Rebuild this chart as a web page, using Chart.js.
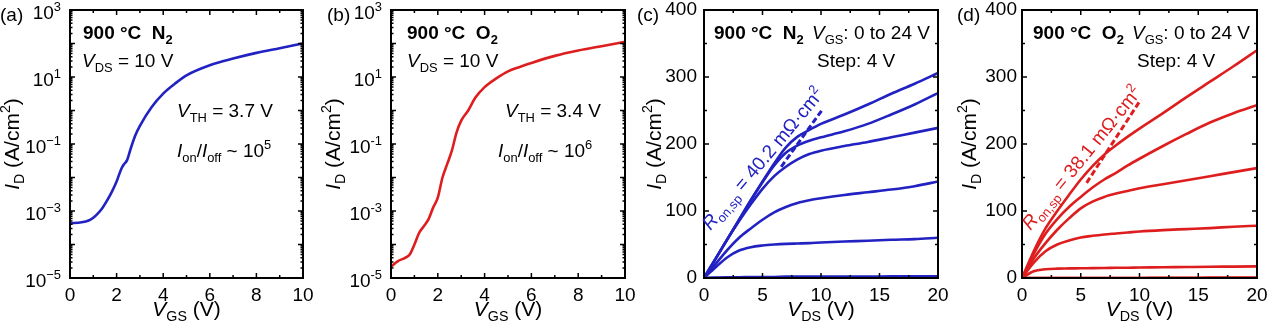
<!DOCTYPE html>
<html>
<head>
<meta charset="utf-8">
<script src="https://cdn.jsdelivr.net/npm/chart.js@4.4.1/dist/chart.umd.min.js"></script>
<style>
  body { margin: 0; background: #fff; }
  #wrap { position: relative; width: 1269px; height: 325px; overflow: hidden; }
  #wrap canvas { position: absolute; left: 0; top: 0; }
</style>
</head>
<body>
<div id="wrap">
  <canvas id="ca" width="1269" height="325"></canvas>
  <canvas id="cb" width="1269" height="325"></canvas>
  <canvas id="cc" width="1269" height="325"></canvas>
  <canvas id="cd" width="1269" height="325"></canvas>
</div>
<script>
// ---- data ----
// (a) transfer curve, 900 °C N2, VDS = 10 V  (ID in A/cm2)
const vgsA = [0, 0.5, 0.8, 1.0, 1.2, 1.4, 1.6, 1.8, 2.0, 2.2, 2.3, 2.45, 2.6, 2.8, 3.0, 3.5, 4.0, 4.5, 5, 6, 7, 8, 9, 10];
const idA = [4.3e-4, 4.6e-4, 5.2e-4, 6.3e-4, 8.5e-4, 1.26e-3, 2.1e-3, 3.8e-3, 7.6e-3, 1.8e-2, 2.4e-2, 3.3e-2, 7.1e-2, 0.18, 0.35, 1.26, 3.2, 6.3, 11.2, 22.4, 35.5, 52.5, 72.4, 100];

// (b) transfer curve, 900 °C O2, VDS = 10 V
const vgsB = [0, 0.3, 0.6, 0.8, 1.0, 1.2, 1.4, 1.6, 1.8, 2.0, 2.2, 2.4, 2.6, 2.8, 3.0, 3.3, 3.6, 4.0, 4.5, 5, 5.5, 6, 7, 8, 9, 10];
const idB = [2.2e-5, 3.2e-5, 4.0e-5, 5.0e-5, 1.0e-4, 2.2e-4, 3.5e-4, 5.6e-4, 1.26e-3, 2.5e-3, 1.0e-2, 2.5e-2, 6.3e-2, 0.22, 0.5, 1.0, 2.4, 5.0, 9.1, 14.8, 20, 26.3, 42.7, 61.7, 83.2, 112];

// (c),(d) output curves, VGS 0 to 24 V, step 4 V
const vdsOut = [0, 1, 2, 3, 4, 5, 6, 7, 8, 9, 10, 12, 14, 16, 18, 20];
const idC24 = [0, 29, 58, 87, 116, 144, 171, 195, 211, 221, 230, 244, 259, 275, 290, 306];
const idC20 = [0, 29, 58, 87, 116, 143, 168, 187, 198, 205, 210, 219, 230, 244, 259, 276];
const idC16 = [0, 29, 58, 85, 110, 133, 152, 166, 177, 185, 190, 197, 203, 210, 217, 224];
const idC12 = [0, 21, 42, 60, 74, 87, 98, 106, 112, 116, 119, 124, 128, 132, 137, 144];
const idC8  = [0, 16, 31, 41, 46, 48.5, 50, 51, 51.5, 52, 53, 54.5, 55.5, 57, 58, 60];
const idC4  = [0, 0.5, 1, 1, 1.5, 1.5, 1.5, 2, 2, 2, 2, 2, 2, 2.5, 2.5, 2.5];
const idC0  = [0, 0, 0, 0, 0, 0, 0, 0, 0, 0, 0, 0, 0, 0, 0, 0];

const idD24 = [0, 40, 74, 100, 124, 147, 167, 184, 198, 211, 223, 246, 270, 293, 316, 340];
const idD20 = [0, 36, 66, 88, 106, 121, 135, 147, 157, 168, 178, 197, 215, 232, 246, 258];
const idD16 = [0, 29, 52, 72, 89, 104, 114, 121, 126, 130, 134, 140, 146, 152, 158, 164];
const idD12 = [0, 23, 40, 50, 56, 60.5, 63, 65, 66.5, 68, 69.5, 71.5, 73, 74.5, 76.5, 78];
const idD8  = [0, 10, 13, 14, 14.3, 14.5, 14.8, 15, 15.2, 15.4, 15.6, 16, 16.4, 16.8, 17, 17.3];
const idD4  = [0, 0, 0, 0, 0, 0, 0, 0, 0, 0, 0, 0.3, 0.3, 0.5, 0.5, 0.5];
const idD0  = [0, 0, 0, 0, 0, 0, 0, 0, 0, 0, 0, 0, 0, 0, 0, 0];

// dashed Ron,sp fit lines (end points)
const fitVdsC = [6.6, 10.1];
const fitIdC = [166, 251];
const fitVdsD = [5.5, 10.1];
const fitIdD = [142, 266];

// ticks
const xMajorT = [0, 2, 4, 6, 8, 10];
const xMinorT = [1, 3, 5, 7, 9];
const xMajorO = [0, 5, 10, 15, 20];
const xMinorO = [2.5, 7.5, 12.5, 17.5];
const yMajorO = [0, 100, 200, 300, 400];
const yMinorO = [50, 150, 250, 350];
const logDecades = [-5, -4, -3, -2, -1, 0, 1, 2, 3];
const logLabelExp = [3, 1, -1, -3, -5];

const FONT = '"Liberation Sans", Arial, Helvetica, sans-serif';
const BLUE = 'rgb(34,34,194)';
const RED = 'rgb(222,30,30)';
const W = 1269, H = 325, TOP = 10, BOTTOM = 278;

// ---- rich text helper (italic / bold / sub / sup) ----
function fontStr(size, st) {
  return (st.includes('i') ? 'italic ' : '') + (st.includes('b') ? 'bold ' : '') + size + 'px ' + FONT;
}
function partSize(size, st) { return (st.includes('_') || st.includes('^')) ? size * 0.68 : size; }
function partDy(size, st) { return st.includes('_') ? size * 0.24 : (st.includes('^') ? -size * 0.42 : 0); }
function richWidth(ctx, parts, size) {
  let w = 0;
  for (const p of parts) {
    const st = p[1] || '';
    ctx.font = fontStr(partSize(size, st), st);
    w += ctx.measureText(p[0]).width;
  }
  return w;
}
function drawRich(ctx, t) {
  const size = t.size || 19;
  ctx.save();
  ctx.translate(t.x, t.y);
  if (t.rot) ctx.rotate(t.rot);
  let cx = 0;
  if (t.align === 'center') cx = -richWidth(ctx, t.parts, size) / 2;
  if (t.align === 'right') cx = -richWidth(ctx, t.parts, size);
  ctx.fillStyle = t.color || '#000';
  ctx.textAlign = 'left';
  ctx.textBaseline = 'alphabetic';
  for (const p of t.parts) {
    const st = p[1] || '';
    ctx.font = fontStr(partSize(size, st), st);
    ctx.fillText(p[0], cx, partDy(size, st));
    cx += ctx.measureText(p[0]).width;
  }
  ctx.restore();
}

const vds = [['V', 'i'], ['DS', '_'], [' = 10 V']];
const yTitle = [['I', 'i'], ['D', '_'], [' (A/cm'], ['2', '^'], [')']];

const panels = {
  ca: {
    plot: [70, 303], log: true, minus: '\u2212',
    xMajor: xMajorT, xMinor: xMinorT, xTitle: [['V', 'i'], ['GS', '_'], [' (V)']], yTitleX: 19,
    texts: [
      { parts: [['(a)']], x: 0, y: 21 },
      { parts: [['900 \u00b0C  N', 'b'], ['2', 'b_']], x: 83, y: 39 },
      { parts: vds, x: 82, y: 67 },
      { parts: [['V', 'i'], ['TH', '_'], [' = 3.7 V']], x: 177, y: 117 },
      { parts: [['I', 'i'], ['on', '_'], ['/'], ['I', 'i'], ['off', '_'], [' ~ 10'], ['5', '^']], x: 177, y: 157 }
    ]
  },
  cb: {
    plot: [391, 625], log: true, minus: '-',
    xMajor: xMajorT, xMinor: xMinorT, xTitle: [['V', 'i'], ['GS', '_'], [' (V)']], yTitleX: 340,
    texts: [
      { parts: [['(b)']], x: 327, y: 21 },
      { parts: [['900 \u00b0C  O', 'b'], ['2', 'b_']], x: 407, y: 39 },
      { parts: vds, x: 407, y: 67 },
      { parts: [['V', 'i'], ['TH', '_'], [' = 3.4 V']], x: 505, y: 117 },
      { parts: [['I', 'i'], ['on', '_'], ['/'], ['I', 'i'], ['off', '_'], [' ~ 10'], ['6', '^']], x: 498, y: 157 }
    ]
  },
  cc: {
    plot: [704, 938], log: false,
    xMajor: xMajorO, xMinor: xMinorO, xTitle: [['V', 'i'], ['DS', '_'], [' (V)']], yTitleX: 661,
    texts: [
      { parts: [['(c)']], x: 637, y: 21 },
      { parts: [['900 \u00b0C  N', 'b'], ['2', 'b_']], x: 714, y: 39 },
      { parts: [['V', 'i'], ['GS', '_'], [': 0 to 24 V']], x: 812, y: 39 },
      { parts: [['Step: 4 V']], x: 817, y: 67 }
    ],
    ron: { parts: [['R', 'i'], ['on,sp', '_'], [' = 40.2 m\u03a9\u00b7cm'], ['2', '^']], at: [0.55, 70], angle: -50, color: BLUE }
  },
  cd: {
    plot: [1022, 1257], log: false,
    xMajor: xMajorO, xMinor: xMinorO, xTitle: [['V', 'i'], ['DS', '_'], [' (V)']], yTitleX: 976,
    texts: [
      { parts: [['(d)']], x: 957, y: 21 },
      { parts: [['900 \u00b0C  O', 'b'], ['2', 'b_']], x: 1033, y: 39 },
      { parts: [['V', 'i'], ['GS', '_'], [': 0 to 24 V']], x: 1132, y: 39 },
      { parts: [['Step: 4 V']], x: 1137, y: 67 }
    ],
    ron: { parts: [['R', 'i'], ['on,sp', '_'], [' = 38.1 m\u03a9\u00b7cm'], ['2', '^']], at: [0.72, 70], angle: -51, color: RED }
  }
};

// frame, inside ticks on all four sides, custom labels
const framePlugin = {
  id: 'frame',
  afterDraw(chart) {
    const p = panels[chart.canvas.id];
    const { ctx, chartArea: a, scales: { x, y } } = chart;
    ctx.save();
    ctx.strokeStyle = '#000';
    ctx.lineWidth = 1.5;
    ctx.beginPath();
    const vt = (v, len) => {
      const px = x.getPixelForValue(v);
      ctx.moveTo(px, a.bottom); ctx.lineTo(px, a.bottom - len);
      ctx.moveTo(px, a.top); ctx.lineTo(px, a.top + len);
    };
    const ht = (v, len) => {
      const py = y.getPixelForValue(v);
      ctx.moveTo(a.left, py); ctx.lineTo(a.left + len, py);
      ctx.moveTo(a.right, py); ctx.lineTo(a.right - len, py);
    };
    p.xMajor.forEach(v => vt(v, 5));
    p.xMinor.forEach(v => vt(v, 3));
    if (p.log) {
      logDecades.forEach(d => {
        ht(Math.pow(10, d), 5);
        if (d < 3) for (let m = 2; m <= 9; m++) ht(m * Math.pow(10, d), 2.5);
      });
    } else {
      yMajorO.forEach(v => ht(v, 5));
      yMinorO.forEach(v => ht(v, 3));
    }
    ctx.stroke();
    ctx.lineWidth = 2;
    ctx.strokeRect(a.left, a.top, a.right - a.left, a.bottom - a.top);
    ctx.restore();

    if (p.log) {
      logLabelExp.forEach(e => {
        const py = y.getPixelForValue(Math.pow(10, e));
        const ex = (e < 0 ? p.minus : '') + Math.abs(e);
        drawRich(ctx, { parts: [['10'], [ex, '^']], x: a.left - 9, y: py + 9, align: 'right' });
      });
    }
    drawRich(ctx, { parts: p.xTitle, x: (a.left + a.right) / 2, y: 316, size: 21, align: 'center' });
    drawRich(ctx, { parts: yTitle, x: p.yTitleX, y: (a.top + a.bottom) / 2, size: 21, align: 'center', rot: -Math.PI / 2 });
    p.texts.forEach(t => drawRich(ctx, t));
    if (p.ron) {
      drawRich(ctx, {
        parts: p.ron.parts, color: p.ron.color,
        x: x.getPixelForValue(p.ron.at[0]), y: y.getPixelForValue(p.ron.at[1]),
        rot: p.ron.angle * Math.PI / 180
      });
    }
  }
};

function line(xs, ys, color) {
  return { data: xs.map((v, i) => ({ x: v, y: ys[i] })), borderColor: color, borderWidth: 2.6,
           pointRadius: 0, fill: false, cubicInterpolationMode: 'monotone' };
}
function dashed(xs, ys, color) {
  return { data: xs.map((v, i) => ({ x: v, y: ys[i] })), borderColor: color, borderWidth: 3,
           borderDash: [6, 3], pointRadius: 0, fill: false, tension: 0 };
}

function makeChart(id, datasets, xr, yScale) {
  const p = panels[id];
  const tickFont = { family: FONT, size: 19 };
  return new Chart(document.getElementById(id), {
    type: 'line',
    data: { datasets: datasets },
    options: {
      responsive: false,
      animation: false,
      devicePixelRatio: 1,
      layout: { padding: { left: 0, right: W - p.plot[1], top: TOP, bottom: 0 } },
      plugins: { legend: { display: false }, tooltip: { enabled: false } },
      scales: {
        x: {
          type: 'linear', min: xr[0], max: xr[1],
          ticks: { stepSize: xr[2], font: tickFont, color: '#000', padding: 6, maxRotation: 0, autoSkip: false },
          grid: { display: false, drawTicks: false },
          border: { display: false },
          afterFit: s => { s.height = H - BOTTOM; s.paddingLeft = 0; s.paddingRight = 0; }
        },
        y: Object.assign({
          grid: { display: false, drawTicks: false },
          border: { display: false },
          afterFit: s => { s.width = p.plot[0]; s.paddingTop = 0; s.paddingBottom = 0; }
        }, yScale)
      }
    },
    plugins: [framePlugin]
  });
}

const logY = { type: 'logarithmic', min: 1e-5, max: 1e3, ticks: { display: false } };
const linY = { type: 'linear', min: 0, max: 400,
  ticks: { stepSize: 100, font: { family: FONT, size: 19 }, color: '#000', padding: 7 } };

makeChart('ca', [line(vgsA, idA, BLUE)], [0, 10, 2], logY);
makeChart('cb', [line(vgsB, idB, RED)], [0, 10, 2], logY);
makeChart('cc', [
  line(vdsOut, idC24, BLUE), line(vdsOut, idC20, BLUE), line(vdsOut, idC16, BLUE),
  line(vdsOut, idC12, BLUE), line(vdsOut, idC8, BLUE), line(vdsOut, idC4, BLUE),
  line(vdsOut, idC0, BLUE), dashed(fitVdsC, fitIdC, BLUE)
], [0, 20, 5], linY);
makeChart('cd', [
  line(vdsOut, idD24, RED), line(vdsOut, idD20, RED), line(vdsOut, idD16, RED),
  line(vdsOut, idD12, RED), line(vdsOut, idD8, RED), line(vdsOut, idD4, RED),
  line(vdsOut, idD0, RED), dashed(fitVdsD, fitIdD, RED)
], [0, 20, 5], Object.assign({}, linY, { ticks: Object.assign({}, linY.ticks, { padding: 5 }) }));
</script>
</body>
</html>
